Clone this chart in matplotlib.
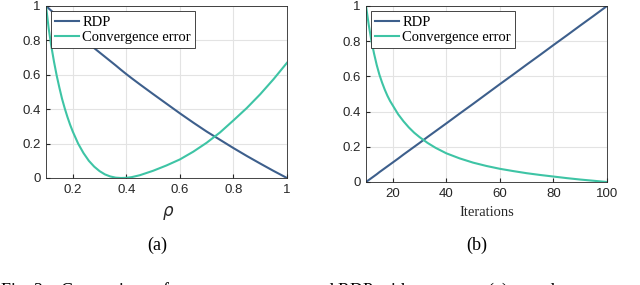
import matplotlib
matplotlib.use("Agg")
import matplotlib.pyplot as plt

# (a) values vs rho
rho = [0.1, 0.11, 0.12, 0.13, 0.14, 0.15, 0.16, 0.17, 0.18, 0.19, 0.2, 0.22, 0.24,
       0.26, 0.28, 0.3, 0.32, 0.34, 0.36, 0.38, 0.4, 0.42, 0.45, 0.5, 0.55, 0.6,
       0.65, 0.7, 0.75, 0.8, 0.85, 0.9, 0.95, 1.0]
rdp_rho = [1.0, 0.986, 0.972, 0.958, 0.944, 0.93, 0.916, 0.902, 0.888, 0.874, 0.86,
           0.833, 0.807, 0.781, 0.755, 0.73, 0.705, 0.68, 0.655, 0.629, 0.604, 0.58,
           0.545, 0.488, 0.432, 0.376, 0.322, 0.27, 0.222, 0.174, 0.128, 0.084,
           0.041, 0.0]
err_rho = [1.0, 0.87, 0.765, 0.675, 0.595, 0.525, 0.46, 0.405, 0.355, 0.31, 0.27,
           0.2, 0.145, 0.1, 0.066, 0.04, 0.021, 0.009, 0.002, 0.0, 0.001, 0.005,
           0.016, 0.042, 0.073, 0.108, 0.153, 0.205, 0.265, 0.335, 0.407, 0.487,
           0.575, 0.67]

# (b) values vs iterations
iters = [10, 11, 12, 13, 14, 15, 16, 17, 18, 19, 20, 22, 24, 26, 28, 30, 33, 36, 40,
         45, 50, 55, 60, 65, 70, 75, 80, 85, 90, 95, 100]
rdp_it = [0.0, 0.011, 0.022, 0.033, 0.044, 0.056, 0.067, 0.078, 0.089, 0.1, 0.111,
          0.133, 0.156, 0.178, 0.2, 0.222, 0.256, 0.289, 0.333, 0.389, 0.444, 0.5,
          0.556, 0.611, 0.667, 0.722, 0.778, 0.833, 0.889, 0.944, 1.0]
err_it = [1.0, 0.895, 0.805, 0.73, 0.665, 0.61, 0.565, 0.525, 0.49, 0.46, 0.435,
          0.385, 0.345, 0.31, 0.28, 0.255, 0.222, 0.194, 0.163, 0.134, 0.11, 0.091,
          0.075, 0.062, 0.05, 0.04, 0.031, 0.022, 0.014, 0.007, 0.0]

c_rdp = '#3d5f8c'
c_err = '#3ec4a5'

fig = plt.figure(figsize=(6.4, 2.85), dpi=100)
ax1 = fig.add_axes([46/640, 1-178/285, 241/640, 172/285])
ax2 = fig.add_axes([366/640, 1-182/285, 241/640, 176/285])

serif = ['Liberation Serif', 'DejaVu Serif']
sans = ['Liberation Sans', 'DejaVu Sans']

for ax, x, r, e in [(ax1, rho, rdp_rho, err_rho), (ax2, iters, rdp_it, err_it)]:
    ax.plot(x, r, color=c_rdp, lw=1.5, label='RDP')
    ax.plot(x, e, color=c_err, lw=1.5, label='Convergence error')
    ax.set_xlim(x[0], x[-1])
    ax.set_ylim(0, 1)
    ax.set_yticks([0, 0.2, 0.4, 0.6, 0.8, 1])
    ax.set_yticklabels(['0', '0.2', '0.4', '0.6', '0.8', '1'])
    ax.grid(True, color='#e3e3e3', lw=0.8)
    ax.set_axisbelow(True)
    ax.tick_params(direction='in', length=3, color='#262626', labelcolor='#262626',
                   labelsize=9.5, pad=4)
    for lab in ax.get_xticklabels() + ax.get_yticklabels():
        lab.set_family(sans)
    for s in ax.spines.values():
        s.set_color('#262626')
        s.set_linewidth(0.6)
    leg = ax.legend(loc='upper left', prop={'family': serif, 'size': 10.5},
                    handlelength=1.6, handletextpad=0.25, borderpad=0.3,
                    labelspacing=0.15, borderaxespad=0.35, fancybox=False,
                    framealpha=1)
    leg.get_frame().set_edgecolor('#262626')
    leg.get_frame().set_linewidth(0.6)

ax1.set_xticks([0.2, 0.4, 0.6, 0.8, 1])
ax1.set_xticklabels(['0.2', '0.4', '0.6', '0.8', '1'], family=sans)
ax2.set_xticks([20, 40, 60, 80, 100])
ax2.set_xticklabels(['20', '40', '60', '80', '100'], family=sans)

fig.text(168/640, 1-213/285, r'$\rho$', ha='center', va='center', fontsize=12,
         color='#262626')
fig.text(487/640, 1-212/285, 'Iterations', ha='center', va='center', fontsize=10.5,
         family=serif, color='#262626')
fig.text(157/640, 1-245/285, '(a)', ha='center', va='center', fontsize=13, family=serif)
fig.text(477/640, 1-245/285, '(b)', ha='center', va='center', fontsize=13, family=serif)

fig.text(0.0, 1-281/285, 'Fig. 3:   Comparison of convergence error and RDP with respect to (a) $\\rho$ and',
         ha='left', va='top', fontsize=13, family=serif)

fig.savefig('out.png', dpi=100)
